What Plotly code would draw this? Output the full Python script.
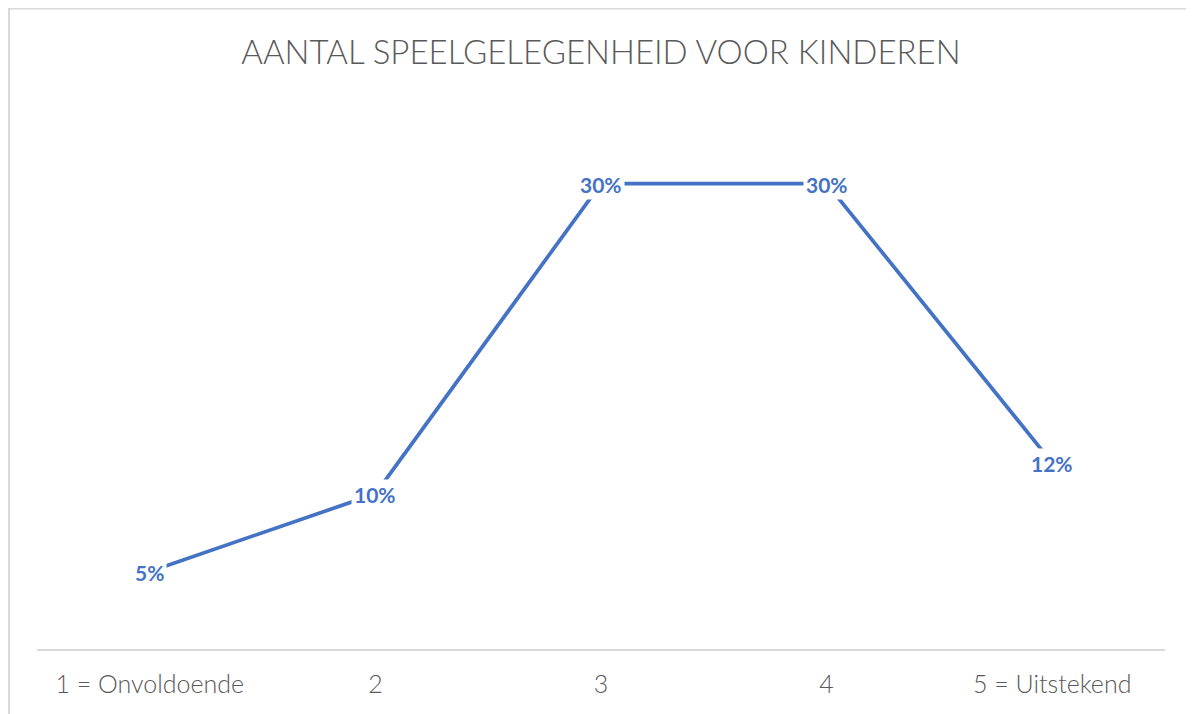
import plotly.graph_objects as go

categories = ["1 = Onvoldoende", "2", "3", "4", "5 = Uitstekend"]
values = [5, 10, 30, 30, 12]
labels = [f"{v}%" for v in values]

title_text = "AANTAL SPEELGELEGENHEID VOOR KINDEREN"
line_color = "#4472C4"
text_gray = "#595959"
font_family = "Lato, Open Sans, sans-serif"

fig = go.Figure()
fig.add_trace(go.Scatter(
    x=categories, y=values, mode="lines",
    line=dict(color=line_color, width=3.7),
    hoverinfo="skip", showlegend=False,
))

for i, (v, t) in enumerate(zip(values, labels)):
    fig.add_annotation(
        x=i, y=v, text=f"<b>{t}</b>", showarrow=False,
        xanchor="center", yanchor="middle", yshift=-1,
        font=dict(family=font_family, size=21, color=line_color),
        bgcolor="white", borderpad=2,
    )

W, H = 1194, 714
L, R, T, B = 29, 37, 98, 73
pw = W - L - R
ph = H - T - B

# outer chart border
fig.add_shape(
    type="rect", xref="paper", yref="paper",
    x0=(1 - L) / pw, x1=(W + 20 - L) / pw,
    y0=-(B + 20) / ph, y1=(H - 0.5 - B) / ph,
    line=dict(color="#d9d9d9", width=2), fillcolor="rgba(0,0,0,0)", layer="below",
)

fig.update_layout(
    width=W, height=H,
    margin=dict(l=L, r=R, t=T, b=B),
    paper_bgcolor="white", plot_bgcolor="white",
    title=dict(
        text=title_text, x=0.5, xref="paper", xanchor="center",
        y=1 - 44 / H, yref="container", yanchor="middle",
        font=dict(family=font_family, size=33, color=text_gray, weight=300),
    ),
    xaxis=dict(
        type="category", range=[-0.5, 4.5],
        showline=True, linecolor="#d9d9d9", linewidth=2,
        showgrid=False, zeroline=False,
        ticks="outside", ticklen=12, tickcolor="rgba(0,0,0,0)",
        tickfont=dict(family=font_family, size=25, color=text_gray, weight=300),
        fixedrange=True,
    ),
    yaxis=dict(
        range=[0, 35], visible=False, showgrid=False, zeroline=False, fixedrange=True,
    ),
)

fig.write_html("out.html")
